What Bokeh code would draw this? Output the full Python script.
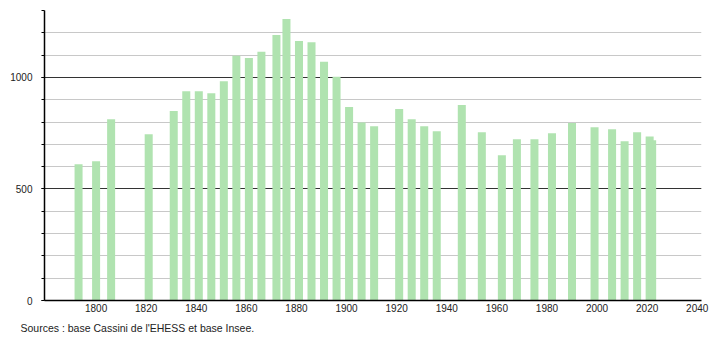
from bokeh.plotting import figure
from bokeh.models import Range1d, FixedTicker, Title
from bokeh.embed import file_html
from bokeh.resources import INLINE

years = [1793, 1800, 1806, 1821, 1831, 1836, 1841, 1846, 1851, 1856, 1861, 1866,
         1872, 1876, 1881, 1886, 1891, 1896, 1901, 1906, 1911, 1921, 1926, 1931,
         1936, 1946, 1954, 1962, 1968, 1975, 1982, 1990, 1999, 2006, 2011, 2016,
         2021, 2022]
population = [611, 624, 813, 745, 850, 938, 938, 929, 983, 1097, 1087, 1115,
              1190, 1262, 1163, 1158, 1070, 1003, 867, 798, 781, 858, 813, 781,
              759, 876, 754, 651, 723, 723, 750, 796, 777, 768, 714, 754,
              735, 718]
x_tick_labels = [1800, 1820, 1840, 1860, 1880, 1900, 1920, 1940, 1960, 1980, 2000, 2020, 2040]
y_major = [0, 500, 1000]
y_minor = list(range(0, 1400, 100))
source_text = "Sources : base Cassini de l'EHESS et base Insee."

p = figure(width=710, height=340, output_backend="svg", toolbar_location=None,
           x_range=Range1d(1779.4, 2041.7), y_range=Range1d(0, 1300),
           min_border_left=44, min_border_right=9, min_border_top=10,
           min_border_bottom=40)
p.outline_line_color = None
p.background_fill_color = "white"
p.border_fill_color = "white"

p.vbar(x=years, top=population, width=3.2, bottom=0,
       fill_color="#b0e3b0", line_color=None)

# y axis
ya = p.yaxis[0]
ya.ticker = FixedTicker(ticks=y_major, minor_ticks=y_minor)
ya.major_tick_out = 3
ya.major_tick_in = 0
ya.minor_tick_out = 3
ya.minor_tick_in = 0
ya.major_label_standoff = 9
ya.major_label_text_font = "Liberation Sans"
ya.major_label_text_font_size = "10px"
ya.major_label_text_color = "#222222"
ya.axis_line_color = "black"
ya.axis_line_width = 1.5
ya.major_tick_line_color = "black"
ya.minor_tick_line_color = "black"

# x axis
xa = p.xaxis[0]
xa.ticker = FixedTicker(ticks=x_tick_labels, minor_ticks=[])
xa.major_tick_out = 0
xa.major_tick_in = 0
xa.major_label_standoff = 3
xa.major_label_text_font = "Liberation Sans"
xa.major_label_text_font_size = "10px"
xa.major_label_text_color = "#222222"
xa.axis_line_color = "black"
xa.axis_line_width = 1.5

# grids
p.xgrid.grid_line_color = None
p.ygrid.grid_line_color = "#333333"
p.ygrid.grid_line_width = 1
p.ygrid.minor_grid_line_color = "#c8c8c8"
p.ygrid.minor_grid_line_width = 1

src = Title(text=source_text, align="left", offset=-24,
            text_font="Liberation Sans", text_font_size="10.5px",
            text_font_style="normal", text_color="#222222", standoff=10)
p.add_layout(src, "below")

open("out.html", "w").write(file_html(p, INLINE))
